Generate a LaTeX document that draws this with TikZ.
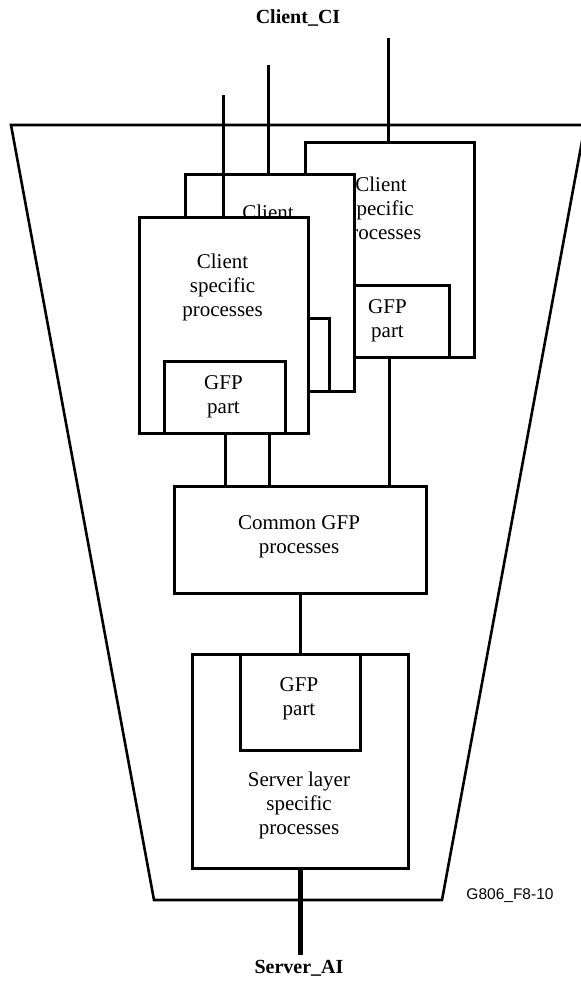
\documentclass[tikz,border=0pt]{standalone}
\usepackage{fontspec}
\setmainfont{Liberation Serif}
\newfontfamily\figsans{Liberation Sans}
\tikzset{
  blk/.style={draw, line width=3pt, fill=white, inner sep=0pt, anchor=north west},
  txt/.style={align=center, inner sep=0pt, font=\fontsize{21}{24}\selectfont},
  wire/.style={line width=3pt},
}

\begin{document}
\begin{tikzpicture}[x=1pt, y=-1pt]
    \useasboundingbox (0,0) rectangle (581,983);
    \draw[line width=2.6pt] (11,125) -- (585,125) -- (442,900) -- (154,900) -- cycle;
    \node[font=\bfseries\fontsize{20}{24}\selectfont] (ci) at (298,18) {Client\_CI};
    \node[font=\bfseries\fontsize{20}{24}\selectfont] (ai) at (299,968) {Server\_AI};
    \node[font=\figsans\fontsize{15.5}{18}\selectfont] (fig) at (510,896) {G806\_F8-10};
    \coordinate (cin1) at (223,95);
    \coordinate (cin2) at (268,65);
    \coordinate (cin3) at (388,38);
    \coordinate (sout) at (299,955);
    \node[blk, minimum width=252, minimum height=107] (cm) at (173,485) {};
    \node[txt] (cmtxt) at (299,537) {Common GFP\\processes};
    % third client, at the back
    \draw[wire] (cin3) -- (cin3 |- 0,141);
    \node[blk, minimum width=169, minimum height=215] (c3) at (304,141) {};
    \node[txt] (c3txt) at (381,210) {Client\\specific\\processes};
    \node[blk, minimum width=121, minimum height=72] (g3) at (327,284) {};
    \node[txt] (g3txt) at (387.5,321) {GFP\\part};
    \draw[wire] (g3.south) -- (g3.south |- cm.north);
    % second client
    \draw[wire] (cin2) -- (cin2 |- 0,173);
    \node[blk, minimum width=169, minimum height=217] (c2) at (184,173) {};
    \node[txt] (c2txt) at (268,212) {Client};
    \node[blk, minimum width=121, minimum height=73] (g2) at (207,317) {};
    \draw[wire] (g2.south) -- (g2.south |- cm.north);
    % first client, in front
    \draw[wire] (cin1) -- (cin1 |- 0,216);
    \node[blk, minimum width=169, minimum height=216] (c1) at (138,216) {};
    \node[txt] (c1txt) at (222.5,287) {Client\\specific\\processes};
    \node[blk, minimum width=121, minimum height=72] (g1) at (163,360) {};
    \node[txt] (g1txt) at (223.5,397) {GFP\\part};
    \draw[wire] (g1.south) -- (g1.south |- cm.north);
    % server layer
    \node[blk, minimum width=216, minimum height=214] (s) at (191,653) {};
    \node[blk, minimum width=120, minimum height=96] (sg) at (239,653) {};
    \node[txt] (sgtxt) at (299,699) {GFP\\part};
    \node[txt] (stxt) at (299,805) {Server layer\\specific\\processes};
    \draw[line width=2.3pt] (cm.south) -- (sg.north);
    \draw[line width=4.5pt] (s.south) -- (s.south |- sout);
\end{tikzpicture}
\end{document}
